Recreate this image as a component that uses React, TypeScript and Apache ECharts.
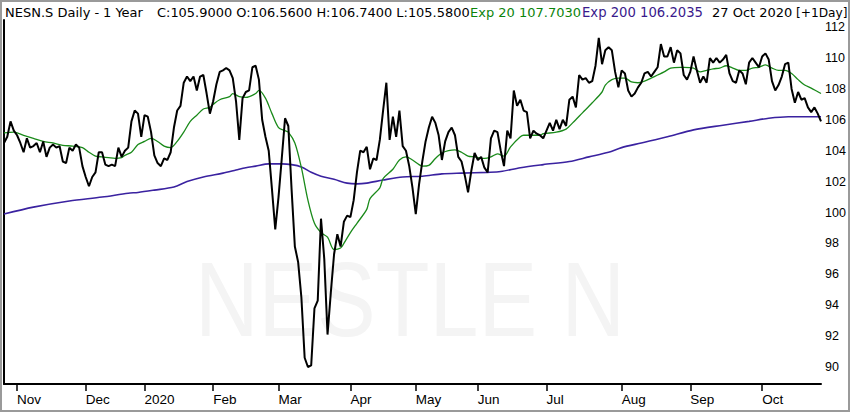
import React, { useEffect, useRef } from "react";
import * as echarts from "echarts";

// Daily closes, 28 Oct 2019 .. 27 Oct 2020 (trading-day index 0..250)
const closes: number[] = [
  104.5, 104.9, 105.9, 105.3, 105.0, 104.5, 103.9, 104.8, 104.2, 104.3,
  104.5, 103.9, 104.6, 103.6, 104.2, 104.4, 104.2, 104.3, 103.3, 103.2,
  104.2, 104.0, 104.4, 104.2, 103.0, 102.3, 101.7, 102.3, 102.6, 103.9,
  103.9, 103.1, 103.0, 103.1, 103.0, 104.2, 103.6, 104.0, 104.2, 105.9,
  106.6, 106.4, 104.9, 106.3, 106.2, 105.2, 103.7, 103.2, 103.0, 103.5,
  103.4, 103.9, 105.5, 106.6, 106.9, 108.4, 108.8, 108.5, 108.8, 107.9,
  108.8, 108.9, 107.7, 106.4, 107.2, 108.3, 109.1, 109.2, 109.35, 109.2,
  108.7, 107.2, 104.7, 107.4, 107.8, 107.9, 109.4, 109.5, 108.6, 106.0,
  104.9, 104.0, 101.5, 98.9, 101.0, 103.5, 106.1, 105.6, 101.5, 97.8,
  96.8, 94.5, 90.6, 90.0, 90.1, 93.8, 94.3, 99.6, 97.0, 92.1,
  94.8, 97.3, 98.6, 97.8, 99.4, 99.8, 99.7, 100.8, 102.6, 104.0,
  103.9, 104.25, 102.8, 103.5, 103.4, 104.7, 106.6, 108.4, 104.7, 106.2,
  104.9, 106.6, 104.3, 104.0, 103.0, 101.6, 99.9, 101.8, 103.3, 104.6,
  105.5, 106.2, 105.8, 105.0, 103.4, 104.6, 105.2, 105.5, 105.0, 103.6,
  103.3, 102.4, 101.3, 102.7, 103.85, 103.4, 103.6, 102.9, 102.6, 104.8,
  105.3, 105.2, 104.0, 103.0, 105.3, 104.8, 107.9, 106.9, 107.3, 106.6,
  106.5, 104.8, 105.3, 105.1, 105.0, 104.8, 105.3, 105.8, 105.3, 106.0,
  105.4, 106.0, 105.6, 107.3, 107.5, 106.8, 108.9, 108.6, 108.7, 108.4,
  108.5, 109.5, 111.3, 109.6, 110.5, 110.7, 110.5, 109.1, 108.1, 109.2,
  109.0, 107.9, 107.5, 107.7, 108.1, 108.4, 109.0, 109.1, 108.8, 109.1,
  109.4, 110.9, 110.1, 110.1, 110.7, 109.7, 110.5, 110.3, 108.9, 108.6,
  109.1, 110.1, 109.2, 108.4, 108.8, 108.4, 110.0, 109.7, 110.0, 109.7,
  109.9, 110.2, 109.0, 108.5, 108.4, 109.2, 109.0, 108.3, 109.7, 110.0,
  109.7, 109.4, 110.1, 110.3, 109.9, 108.5, 107.9, 108.25, 108.8, 109.6,
  109.7, 108.0, 107.1, 107.8, 107.3, 107.4, 106.8, 106.5, 106.8, 106.4,
  105.9,
];

// Exponential moving averages: [trading-day index, value]
const ema20Points: [number, number][] = [
  [0, 105.15], [3, 105.2], [6, 105.0], [9, 104.8], [12, 104.6], [15, 104.5],
  [18, 104.35], [21, 104.3], [24, 104.2], [26, 103.9], [28, 103.65], [30, 103.6],
  [32, 103.55], [34, 103.5], [36, 103.55], [37, 103.7], [39, 103.9], [41, 104.4],
  [43, 104.6], [45, 104.8], [47, 104.6], [49, 104.3], [51, 104.2], [53, 104.6],
  [55, 105.2], [57, 105.9], [59, 106.3], [61, 106.7], [63, 106.8], [64, 107.0],
  [66, 107.3], [69, 107.5], [70, 107.7], [72, 107.5], [74, 107.45], [77, 107.7],
  [78, 107.9], [80, 107.4], [82, 106.4], [84, 105.5], [86, 105.3], [87, 105.2],
  [89, 104.5], [91, 102.9], [93, 100.8], [95, 99.3], [97, 98.7], [99, 98.4],
  [101, 97.6], [103, 97.7], [104, 98.0], [106, 98.7], [108, 99.3], [111, 100.2],
  [112, 100.9], [115, 101.6], [116, 102.2], [119, 102.8], [121, 103.4], [123, 103.6],
  [125, 103.4], [127, 103.1], [128, 103.0], [130, 103.05], [132, 103.5], [134, 103.85],
  [136, 104.0], [138, 104.05], [140, 103.9], [142, 103.65], [144, 103.6], [147, 103.5],
  [149, 103.6], [151, 103.8], [153, 103.65], [155, 104.25], [158, 104.9], [159, 105.0],
  [162, 105.0], [164, 105.0], [165, 105.1], [169, 105.2], [172, 105.4], [174, 105.8],
  [177, 106.45], [180, 107.1], [183, 107.8], [184, 108.25], [186, 108.6], [188, 108.7],
  [190, 108.7], [192, 108.45], [194, 108.4], [196, 108.5], [198, 108.7], [200, 108.9],
  [202, 109.1], [204, 109.35], [207, 109.4], [208, 109.4], [211, 109.35], [213, 109.1],
  [215, 109.2], [217, 109.3], [219, 109.35], [221, 109.5], [223, 109.35], [225, 109.2],
  [227, 109.2], [229, 109.35], [231, 109.4], [233, 109.55], [235, 109.35], [237, 109.2],
  [239, 109.2], [241, 109.0], [243, 108.6], [245, 108.25], [247, 108.05], [250, 107.7],
];

const ema200Points: [number, number][] = [
  [0, 99.9], [9, 100.35], [20, 100.75], [30, 101.0], [38, 101.25], [41, 101.3],
  [46, 101.45], [52, 101.65], [56, 102.0], [61, 102.3], [67, 102.55], [71, 102.75],
  [74, 102.9], [77, 103.0], [81, 103.15], [85, 103.15], [88, 103.1], [91, 102.95],
  [94, 102.6], [97, 102.35], [101, 102.15], [105, 101.9], [108, 101.85], [111, 101.9],
  [116, 102.1], [122, 102.3], [128, 102.35], [134, 102.5], [140, 102.55], [148, 102.6],
  [152, 102.65], [158, 102.9], [165, 103.1], [173, 103.3], [179, 103.6], [185, 103.9],
  [189, 104.2], [195, 104.5], [203, 104.9], [211, 105.35], [220, 105.65], [228, 105.9],
  [234, 106.1], [240, 106.2], [246, 106.2], [250, 106.2],
];

// First trading day of each month (index) and its label
const monthTickIdx = [4, 25, 43, 64, 84, 106, 126, 145, 166, 189, 210, 232];
const monthTickLabels = ["Nov", "Dec", "2020", "Feb", "Mar", "Apr", "May", "Jun", "Jul", "Aug", "Sep", "Oct"];

const yTicks = [90, 92, 94, 96, 98, 100, 102, 104, 106, 108, 110, 112];

const headerParts = [
  { text: "NESN.S Daily -", x: 5, size: 13, color: "#000000" },
  { text: "1 Year", x: 103, size: 13, color: "#000000" },
  { text: "C:105.9000 O:106.5600 H:106.7400 L:105.5800", x: 157, size: 12.95, color: "#000000" },
  { text: "Exp 20 107.7030", x: 470, size: 13, color: "#0b840b" },
  { text: "Exp 200 106.2035", x: 582, size: 13.2, color: "#3a1a8c" },
  { text: "27 Oct 2020", x: 712, size: 13, color: "#000000" },
  { text: "[+1Day]", x: 796, size: 12.2, color: "#000000" },
];

const watermark = "NESTLE N";

export default function App() {
  const ref = useRef<HTMLDivElement>(null);

  useEffect(() => {
    if (!ref.current) return;
    const chart = echarts.init(ref.current, null, { renderer: "svg" });
    const labelByIdx: Record<number, string> = {};
    monthTickIdx.forEach((i, k) => (labelByIdx[i] = monthTickLabels[k]));

    const option: any = {
      animation: false,
      backgroundColor: "#ffffff",
      grid: { left: 4, right: 29, top: 20, bottom: 28, containLabel: false },
      xAxis: {
        type: "value",
        min: 0,
        max: closes.length - 1,
        axisLine: { show: true, onZero: false, lineStyle: { color: "#000", width: 2 } },
        axisTick: {
          show: true,
          customValues: monthTickIdx,
          length: 7,
          lineStyle: { color: "#000", width: 1.5 },
        },
        axisLabel: {
          show: true,
          customValues: monthTickIdx,
          formatter: (v: number) => labelByIdx[Math.round(v)] ?? "",
          align: "left",
          margin: 8,
          color: "#000",
          fontSize: 13.5,
          fontFamily: "Liberation Sans",
        },
        splitLine: { show: false },
      },
      yAxis: {
        type: "value",
        position: "right",
        min: 88.9,
        max: 112.46,
        axisLine: { show: true, lineStyle: { color: "#000", width: 2 } },
        axisTick: { show: false },
        axisLabel: {
          show: true,
          customValues: yTicks,
          margin: 4,
          color: "#000",
          fontSize: 12.5,
          fontFamily: "Liberation Sans",
        },
        splitLine: { show: false },
      },
      graphic: [
        {
          type: "rect",
          shape: { x: 1, y: 1, width: 848, height: 410 },
          style: { fill: "none", stroke: "#9a9a9a", lineWidth: 2 },
          z: 10,
          silent: true,
        },
        {
          type: "text",
          x: 410,
          y: 300,
          scaleX: 0.83,
          z: -10,
          silent: true,
          style: {
            text: watermark,
            fontSize: 106,
            fontFamily: "Liberation Sans",
            fill: "#f4f4f4",
            align: "center",
            verticalAlign: "middle",
          },
        },
        ...headerParts.map((p) => ({
          type: "text",
          x: p.x,
          y: 12.5,
          silent: true,
          style: {
            text: p.text,
            fontSize: p.size,
            fontFamily: "DejaVu Sans",
            fill: p.color,
            align: "left",
            verticalAlign: "middle",
          },
        })),
      ],
      series: [
        {
          type: "line",
          name: "Exp 200",
          data: ema200Points,
          showSymbol: false,
          smooth: 0.3,
          lineStyle: { color: "#3a22a0", width: 1.6 },
          z: 3,
        },
        {
          type: "line",
          name: "Exp 20",
          data: ema20Points,
          showSymbol: false,
          smooth: 0.3,
          lineStyle: { color: "#1a8a1a", width: 1.3 },
          z: 4,
        },
        {
          type: "line",
          name: "NESN.S",
          data: closes.map((v, i) => [i, v]),
          showSymbol: false,
          lineStyle: { color: "#000000", width: 2 },
          z: 5,
        },
      ],
    };
    chart.setOption(option);
    return () => chart.dispose();
  }, []);

  return (
    <div
      ref={ref}
      style={{ position: "absolute", left: 0, top: 0, width: 850, height: 412, background: "#fff" }}
    />
  );
}
